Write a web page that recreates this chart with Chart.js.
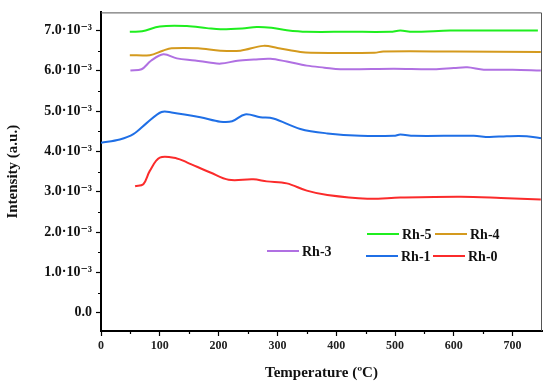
<!DOCTYPE html>
<html>
<head>
<meta charset="utf-8">
<script src="https://cdn.jsdelivr.net/npm/chart.js@4.4.1/dist/chart.umd.min.js"></script>
<style>
  html, body { margin: 0; padding: 0; background: #fff; }
  #wrap { width: 550px; height: 386px; }
</style>
</head>
<body>
<div id="wrap"><canvas id="tpr"></canvas></div>
<script>
// values, intensity in units of 1e-3
const rh5T = [49, 70, 100, 146, 180, 203, 240, 265, 290, 316, 350, 420, 492, 509, 530, 594, 650, 743];
const rh5Y = [6.97, 6.98, 7.10, 7.11, 7.06, 7.03, 7.05, 7.09, 7.07, 7.01, 6.97, 6.97, 6.97, 7.00, 6.97, 7.00, 7.00, 7.00];

const rh4T = [49, 83, 105, 120, 165, 203, 237, 276, 300, 339, 357, 465, 480, 600, 748];
const rh4Y = [6.39, 6.39, 6.50, 6.56, 6.56, 6.50, 6.50, 6.62, 6.57, 6.47, 6.45, 6.45, 6.48, 6.48, 6.47];

const rh3T = [50, 69, 85, 106, 129, 160, 187, 204, 232, 260, 288, 316, 350, 380, 407, 498, 566, 600, 623, 651, 700, 748];
const rh3Y = [6.01, 6.04, 6.25, 6.41, 6.31, 6.26, 6.20, 6.18, 6.25, 6.28, 6.30, 6.23, 6.13, 6.08, 6.04, 6.05, 6.04, 6.07, 6.09, 6.03, 6.03, 6.01];

const rh1T = [0, 32, 55, 78, 103, 120, 169, 203, 223, 245, 271, 293, 339, 385, 441, 498, 509, 532, 634, 660, 690, 724, 750];
const rh1Y = [4.22, 4.30, 4.43, 4.71, 4.98, 4.97, 4.85, 4.74, 4.75, 4.92, 4.85, 4.82, 4.56, 4.45, 4.39, 4.39, 4.42, 4.39, 4.39, 4.36, 4.38, 4.38, 4.33];

const rh0T = [58, 72, 83, 100, 129, 146, 186, 217, 259, 282, 316, 350, 385, 453, 509, 612, 680, 748];
const rh0Y = [3.14, 3.19, 3.52, 3.85, 3.83, 3.73, 3.48, 3.30, 3.31, 3.26, 3.21, 3.03, 2.92, 2.83, 2.86, 2.88, 2.85, 2.81];

const xTicks = [0, 100, 200, 300, 400, 500, 600, 700];
const yTicks = [0, 1, 2, 3, 4, 5, 6, 7];

const pts = (t, y) => t.map((v, i) => ({ x: v, y: y[i] }));
const serif = "'Liberation Serif', 'DejaVu Serif', serif";

const series = [
    { label: 'Rh-5', t: rh5T, y: rh5Y, color: '#1fee1f' },
    { label: 'Rh-4', t: rh4T, y: rh4Y, color: '#d49a1e' },
    { label: 'Rh-3', t: rh3T, y: rh3Y, color: '#b070e2' },
    { label: 'Rh-1', t: rh1T, y: rh1Y, color: '#1f6fe6' },
    { label: 'Rh-0', t: rh0T, y: rh0Y, color: '#fb2b2b' },
];

// where each legend entry sits: [line start x, y]
const legendPos = {
    'Rh-5': [367, 234],
    'Rh-4': [435, 234],
    'Rh-3': [267, 251],
    'Rh-1': [366, 256],
    'Rh-0': [433, 256],
};

const extras = {
    id: 'extras',
    afterDraw(chart) {
        const { ctx, chartArea: a, scales: { x, y } } = chart;
        ctx.save();
        // top and right frame
        ctx.strokeStyle = '#555';
        ctx.lineWidth = 1;
        ctx.beginPath();
        ctx.moveTo(a.left, a.top + 0.5);
        ctx.lineTo(a.right - 0.5, a.top + 0.5);
        ctx.lineTo(a.right - 0.5, a.bottom);
        ctx.stroke();
        // minor ticks
        ctx.strokeStyle = '#000';
        ctx.lineWidth = 1.2;
        ctx.beginPath();
        for (let v = 50; v < 750; v += 100) {
            const px = Math.round(x.getPixelForValue(v)) + 0.5;
            ctx.moveTo(px, a.bottom);
            ctx.lineTo(px, a.bottom + 3);
        }
        for (let v = -0.5; v < 7.45; v += 1) {
            if (v < y.min) continue;
            const py = Math.round(y.getPixelForValue(v)) + 0.5;
            ctx.moveTo(a.left, py);
            ctx.lineTo(a.left - 3, py);
        }
        ctx.stroke();
        // legend
        ctx.font = 'bold 14px ' + serif;
        ctx.textBaseline = 'middle';
        ctx.fillStyle = '#111';
        chart.data.datasets.forEach(ds => {
            const [lx, ly] = legendPos[ds.label];
            ctx.strokeStyle = ds.borderColor;
            ctx.lineWidth = 2;
            ctx.beginPath();
            ctx.moveTo(lx, ly);
            ctx.lineTo(lx + 32, ly);
            ctx.stroke();
            ctx.fillText(ds.label, lx + 35, ly + 1);
        });
        ctx.restore();
    }
};

new Chart(document.getElementById('tpr').getContext('2d'), {
    type: 'line',
    data: {
        datasets: series.map(s => ({
            label: s.label,
            data: pts(s.t, s.y),
            borderColor: s.color,
            backgroundColor: 'transparent',
            borderWidth: 2,
            pointRadius: 0,
            tension: 0.35,
        }))
    },
    options: {
        responsive: true,
        maintainAspectRatio: false,
        animation: false,
        layout: { padding: { top: 10, right: 8, left: 0, bottom: 0 } },
        plugins: {
            legend: { display: false },
            title: { display: false },
            tooltip: { enabled: false },
        },
        scales: {
            x: {
                type: 'linear',
                min: 0,
                max: 750,
                afterBuildTicks: (s) => { s.ticks = xTicks.map(v => ({ value: v })); },
                ticks: {
                    color: '#222',
                    padding: 3,
                    maxRotation: 0,
                    font: { family: serif, size: 12, weight: 'bold' },
                },
                grid: { drawOnChartArea: false, drawTicks: true, tickLength: 5, color: '#000', tickWidth: 1.2 },
                border: { display: true, color: '#000', width: 2 },
                title: {
                    display: true,
                    text: 'Temperature (\u00BAC)',
                    color: '#111',
                    padding: { top: 6 },
                    font: { family: serif, size: 15, weight: 'bold' },
                },
                afterFit: (s) => { s.height = 55; },
            },
            y: {
                min: -0.45,
                max: 7.45,
                afterBuildTicks: (s) => { s.ticks = yTicks.map(v => ({ value: v })); },
                ticks: {
                    color: '#111',
                    padding: 4,
                    font: { family: serif, size: 14, weight: 'bold' },
                    callback: (v) => v === 0 ? '0.0' : v.toFixed(1) + '\u00B710\u207B\u00B3',
                },
                grid: { drawOnChartArea: false, drawTicks: true, tickLength: 5, color: '#000', tickWidth: 1.2 },
                border: { display: true, color: '#000', width: 2 },
                title: {
                    display: true,
                    text: 'Intensity (a.u.)',
                    color: '#111',
                    padding: { top: 4, bottom: 0 },
                    font: { family: serif, size: 15, weight: 'bold' },
                },
                afterFit: (s) => { s.width = 101; },
            },
        },
    },
    plugins: [extras],
});
</script>
</body>
</html>
